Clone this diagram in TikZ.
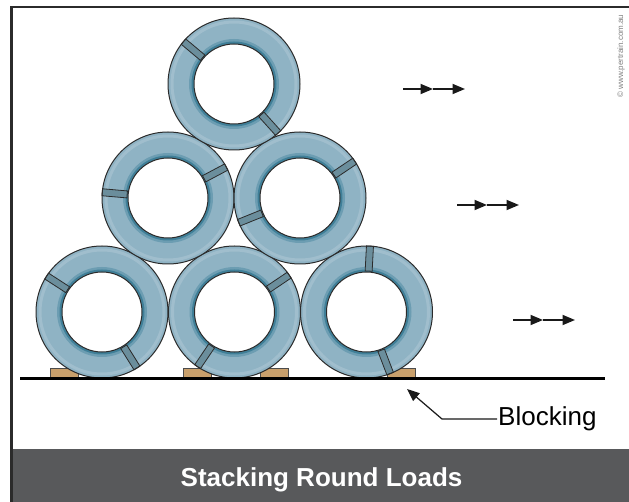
\documentclass[tikz,border=0pt]{standalone}
\usepackage{fontspec}
\setmainfont{Liberation Sans}
\usepackage{tikz}
\usetikzlibrary{arrows.meta}

\definecolor{coilblue}{HTML}{8FB3C4}
\definecolor{coilring}{HTML}{6C9DB2}
\definecolor{coildark}{HTML}{3F7F98}
\definecolor{strapgray}{HTML}{6B8E9C}
\definecolor{edgegray}{HTML}{2B2B2B}
\definecolor{blocktan}{HTML}{C9A06C}
\definecolor{bargray}{HTML}{58595B}

\begin{document}
\begin{tikzpicture}[x=1pt, y=-1pt,
    coiledge/.style={edgegray, line width=1pt},
    strap/.style={fill=strapgray, draw=edgegray, line width=0.8pt},
    blockpad/.style={fill=blocktan, draw=black!70, line width=0.8pt},
    windarrow/.style={-{Triangle[length=12.5pt,width=10pt]}, line width=1.8pt, black!90},
    callout/.style={-{Triangle[length=12.5pt,width=10pt]}, line width=1.2pt, black!90}]
  \useasboundingbox (0,0) rectangle (629,502);

  % Frame and title bar
  \draw[edgegray, line width=2.5pt] (11.5,506) -- (11.5,7) -- (633,7);
  \fill[bargray] (13,449) rectangle (629,502);
  \node[font=\bfseries\fontsize{26}{30}\selectfont, text=white, anchor=base] (title) at (321.5,486)
    {Stacking Round Loads};

  % Blocking pads (under the bottom row)
  \foreach \bx in {50,183,260,387}
    \draw[blockpad] (\bx,368) rectangle (\bx+28.5,378);

  % Coils: centre x / centre y / strap angles
  \foreach \cx/\cy/\sa/\sb in {102/312/147/-58, 234.5/312/34/-124, 366.5/312/87/-69,
                               168/198/175/28, 300/198/202/34, 234/84/140/-48}{
    \fill[coilblue] (\cx,\cy) circle (66);
    \draw[coilblue!85!white, line width=3pt] (\cx,\cy) circle (62);
    \fill[coilring] (\cx,\cy) circle (45);
    \fill[coildark] (\cx,\cy) circle (42.5);
    \foreach \a in {\sa,\sb}
      \draw[strap, rotate around={\a:(\cx,\cy)}] (\cx+41,\cy-3.5) rectangle (\cx+66,\cy+3.5);
    \draw[coiledge] (\cx,\cy) circle (66);
    \draw[coiledge, fill=white] (\cx,\cy) circle (40);
  }

  % Ground
  \draw[black, line width=2.2pt] (20,378.5) -- (605,378.5);

  % Wind arrows
  \foreach \i/\x/\y in {1/403/89, 2/457/205, 3/513/320}{
    \coordinate (w\i-a) at (\x,\y);
    \coordinate (w\i-b) at (\x+30,\y);
    \coordinate (w\i-c) at (\x+62,\y);
    \draw[windarrow] (w\i-a) -- (w\i-b);
    \draw[windarrow] (w\i-b) -- (w\i-c);
  }

  % Blocking callout
  \node[font=\fontsize{26}{30}\selectfont, anchor=base west, inner sep=1pt] (blocking) at (497,425) {Blocking};
  \coordinate (blockbend) at (442,419);
  \coordinate (blocktip) at (407,389);
  \draw[callout] (blocking.west |- blockbend) -- (blockbend) -- (blocktip);

  % Credit line
  \node[rotate=90, font=\fontsize{8}{9}\selectfont, text=black!50] (credit) at (621,56)
    {\textcopyright\ www.pertrain.com.au};
\end{tikzpicture}
\end{document}
